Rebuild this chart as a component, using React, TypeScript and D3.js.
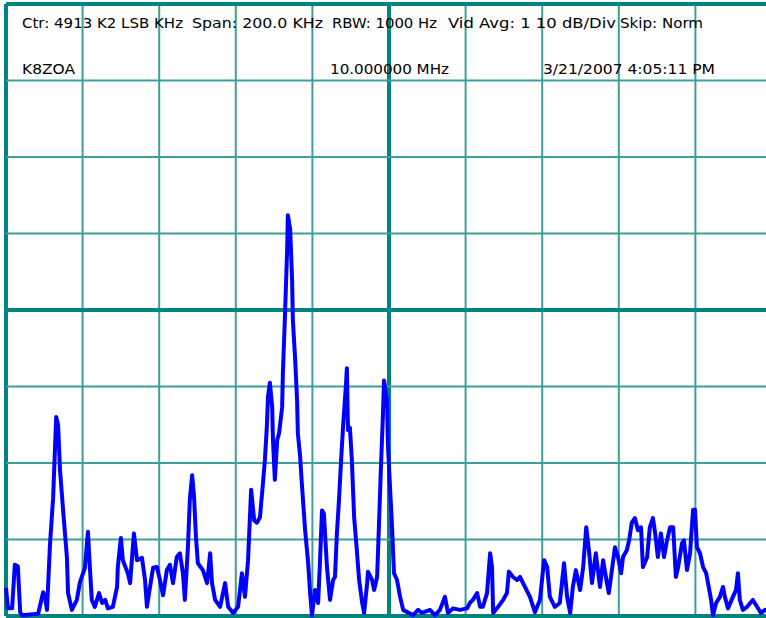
import * as d3 from 'd3';
import React from 'react';

// trace samples: frequency offset from centre (kHz) and level (dB)
const freqKHz = [
  -100.0, -99.5, -98.4, -97.7, -96.9, -96.3, -95.8, -91.6, -90.3, -89.8, -89.3, -88.5, -87.7, -86.9, -86.4,
  -85.9, -85.1, -84.1, -83.8, -82.8, -81.5, -80.7, -79.4, -78.6, -78.1, -77.6, -76.8, -75.7, -74.9, -74.1,
  -73.4, -72.1, -71.0, -70.8, -70.0, -69.5, -68.2, -67.6, -66.6, -65.8, -64.5, -63.7, -63.2, -62.4, -61.6,
  -60.6, -59.8, -59.0, -58.0, -57.2, -56.4, -55.4, -54.6, -53.8, -53.3, -52.5, -52.0, -51.4, -50.9, -50.4,
  -49.9, -48.6, -47.5, -46.7, -46.2, -45.4, -44.1, -42.8, -42.0, -40.7, -39.4, -38.4, -37.6, -36.8, -36.0,
  -35.2, -34.5, -33.7, -32.9, -32.4, -31.9, -31.6, -31.1, -30.5, -30.3, -29.8, -29.2, -28.7, -27.9, -27.7,
  -27.2, -26.6, -26.4, -25.8, -25.3, -25.1, -24.5, -24.0, -23.8, -23.2, -22.7, -21.9, -21.1, -20.6, -20.1,
  -19.3, -18.5, -18.0, -17.5, -17.0, -16.2, -15.4, -14.6, -14.1, -13.6, -13.1, -12.5, -12.0, -11.2, -11.0,
  -10.7, -10.2, -9.7, -9.1, -8.4, -7.8, -7.0, -6.5, -5.7, -5.5, -4.4, -3.9, -3.1, -2.6, -2.1,
  -1.6, -1.3, -0.5, -0.3, 0.3, 0.8, 1.3, 2.1, 2.9, 3.7, 6.3, 7.6, 8.6, 10.7, 12.0,
  13.3, 14.6, 15.4, 16.7, 18.5, 20.4, 21.1, 21.9, 23.0, 23.8, 24.5, 25.6, 26.4, 26.9, 27.2,
  28.5, 29.8, 30.8, 31.3, 32.4, 33.4, 34.2, 35.5, 36.8, 38.1, 39.4, 40.5, 41.3, 42.0, 43.3,
  44.6, 45.7, 46.5, 47.3, 48.0, 48.8, 49.9, 50.7, 51.5, 52.2, 53.0, 54.0, 55.1, 55.9, 56.9,
  57.4, 58.2, 59.0, 59.8, 60.6, 61.1, 62.1, 62.7, 63.4, 64.2, 65.0, 65.8, 66.3, 67.4, 68.1,
  68.9, 69.5, 70.2, 71.0, 71.8, 72.6, 73.4, 74.2, 74.9, 75.5, 76.5, 77.0, 77.8, 78.6, 79.4,
  79.9, 80.4, 81.2, 82.0, 82.8, 83.3, 84.1, 84.6, 85.4, 86.4, 87.2, 87.7, 88.5, 89.8, 90.6,
  91.1, 91.6, 92.4, 93.5, 95.0, 96.1, 97.1, 98.2, 99.5,
];

const levelDb = [
  -76.3, -79.0, -79.0, -73.3, -73.5, -79.5, -79.9, -79.7, -76.9, -77.6, -79.2, -70.5, -64.6, -54.0, -55.0,
  -60.9, -66.1, -72.3, -77.0, -79.2, -77.9, -75.6, -73.7, -69.0, -73.6, -77.9, -78.8, -77.0, -78.3, -77.9,
  -79.0, -78.8, -76.2, -73.6, -69.8, -72.7, -74.4, -75.7, -69.2, -72.7, -72.4, -75.3, -78.8, -76.2, -73.7,
  -73.6, -75.3, -77.3, -74.0, -73.3, -75.7, -72.3, -71.8, -74.4, -77.9, -71.0, -64.8, -61.6, -64.4, -69.7,
  -73.1, -74.0, -75.7, -71.8, -75.7, -77.9, -78.8, -75.7, -78.8, -79.6, -78.8, -74.4, -77.5, -72.7, -63.5,
  -67.5, -67.8, -67.1, -62.6, -59.6, -55.3, -51.4, -49.5, -52.7, -57.0, -62.2, -57.0, -56.1, -52.7, -48.2,
  -41.3, -32.2, -27.6, -29.5, -36.1, -41.3, -46.5, -51.8, -56.1, -59.2, -63.1, -68.8, -73.1, -77.0, -79.9,
  -76.6, -78.3, -72.7, -66.2, -66.6, -73.6, -77.9, -75.3, -74.9, -69.2, -65.2, -59.6, -55.3, -49.5, -47.6,
  -55.7, -55.4, -59.6, -67.1, -71.4, -75.3, -78.3, -79.6, -75.7, -74.2, -75.3, -76.6, -74.9, -67.8, -60.5,
  -54.0, -49.2, -51.8, -57.4, -63.5, -68.4, -74.4, -75.3, -77.5, -79.2, -79.9, -79.2, -79.6, -79.2, -79.9,
  -79.2, -77.5, -79.6, -79.0, -79.2, -79.0, -78.3, -77.9, -77.0, -78.8, -78.8, -77.0, -71.8, -73.6, -79.6,
  -78.8, -77.9, -77.0, -74.2, -74.9, -75.3, -74.9, -76.2, -77.5, -79.5, -77.9, -72.7, -73.6, -77.5, -78.8,
  -78.3, -73.1, -77.5, -79.6, -76.2, -74.0, -76.6, -73.6, -68.4, -71.4, -75.7, -71.8, -76.2, -72.7, -75.7,
  -77.0, -74.0, -71.0, -72.3, -74.4, -72.3, -71.4, -70.1, -67.8, -67.2, -68.8, -68.4, -73.6, -72.3, -68.4,
  -67.2, -69.2, -72.3, -69.2, -72.3, -70.1, -68.4, -68.4, -74.9, -73.6, -70.5, -70.1, -74.0, -71.8, -66.1,
  -66.1, -71.0, -71.8, -73.6, -74.4, -75.7, -77.9, -79.9, -78.3, -77.5, -76.2, -77.5, -79.0, -77.5, -76.6,
  -74.4, -77.9, -79.2, -78.8, -77.9, -78.8, -79.6, -79.2, -79.5,
];

const freqTicks = [-100, -80, -60, -40, -20, 0, 20, 40, 60, 80, 100];
const dbTicks = [0, -10, -20, -30, -40, -50, -60, -70, -80];

const headerTop = ['Ctr: 4913 K2 LSB KHz', 'Span: 200.0 KHz', 'RBW: 1000 Hz', 'Vid Avg: 1 10 dB/Div', 'Skip: Norm'];
const headerBottom = ['K8ZOA', '10.000000 MHz', '3/21/2007 4:05:11 PM'];

const W = 766;
const H = 618;
const thin = '#3d9f9a';
const thick = '#008480';

export default function App() {
  const x = d3.scaleLinear().domain([-100, 100]).range([6, 772]);
  const y = d3.scaleLinear().domain([-80, 0]).range([616, 4]);

  const pts: [number, number][] = freqKHz.map((f, i) => [f, levelDb[i]]);
  const line = d3.line<[number, number]>()
    .x(d => x(d[0]))
    .y(d => y(d[1]));

  // text positions (start x, width)
  const topPos = [[22, 161], [192, 131], [332, 105], [448, 168], [620, 83]];
  const botPos = [[22, 53], [330, 119], [543, 172]];
  const font = '"DejaVu Sans", sans-serif';

  return (
    <svg width={W} height={H} style={{ position: 'absolute', left: 0, top: 0, display: 'block', background: '#fff' }}>
      <rect width={W} height={H} fill="#fff" />
      {freqTicks.map(f => {
        const isThick = f === 0 || f === -100 || f === 100;
        return <line key={'v' + f} x1={x(f)} x2={x(f)} y1={y(0)} y2={y(-80)}
          stroke={isThick ? thick : thin} strokeWidth={isThick ? 4 : 2} />;
      })}
      {dbTicks.map(v => {
        const isThick = v === -40 || v === 0 || v === -80;
        return <line key={'h' + v} x1={x(-100)} x2={x(100)} y1={y(v)} y2={y(v)}
          stroke={isThick ? thick : thin} strokeWidth={isThick ? 4 : 2} />;
      })}
      <path d={line(pts) ?? ''} fill="none" stroke="#0000ff" strokeWidth={4} strokeLinejoin="round" />
      {headerTop.map((t, i) => (
        <text key={t} x={topPos[i][0]} y={28} fontFamily={font} fontSize={14} fill="#000"
          textLength={topPos[i][1]} lengthAdjust="spacingAndGlyphs">{t}</text>
      ))}
      {headerBottom.map((t, i) => (
        <text key={t} x={botPos[i][0]} y={74} fontFamily={font} fontSize={14} fill="#000"
          textLength={botPos[i][1]} lengthAdjust="spacingAndGlyphs">{t}</text>
      ))}
    </svg>
  );
}
